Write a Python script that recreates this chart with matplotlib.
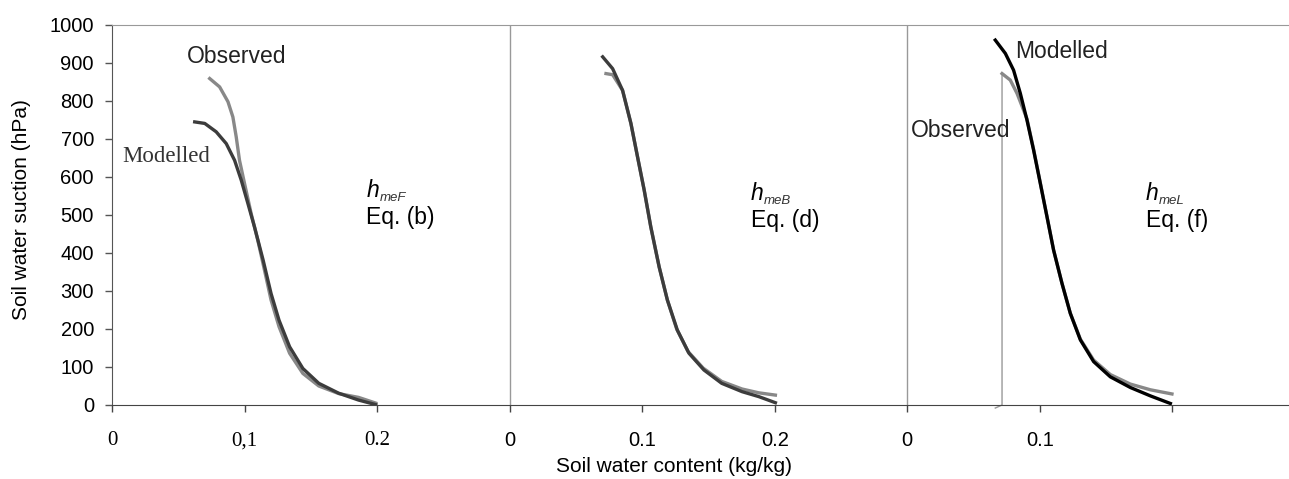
import matplotlib.pyplot as plt
import numpy as np

plt.rcParams['font.family'] = ['Liberation Sans', 'DejaVu Sans']

# Panel (b): hmeF
obs_b_x = [0.0737, 0.0812, 0.0875, 0.0912, 0.0937, 0.0962, 0.100, 0.105, 0.110, 0.115, 0.120,
           0.126, 0.134, 0.144, 0.156, 0.171, 0.186, 0.199]
obs_b_y = [858, 836, 797, 757, 705, 643, 582, 503, 433, 355, 276, 206, 136, 83, 50, 30, 20, 5]
mod_b_x = [0.0624, 0.070, 0.0786, 0.0862, 0.0925, 0.0975, 0.1025, 0.1075, 0.114, 0.120, 0.126,
           0.134, 0.144, 0.156, 0.171, 0.186, 0.199]
mod_b_y = [744, 740, 718, 687, 643, 591, 530, 468, 381, 293, 223, 153, 96, 57, 31, 13, 1]

# Panel (d): hmeB
obs_d_x = [0.0727, 0.0777, 0.0852, 0.0915, 0.0965, 0.1015, 0.1065, 0.1128, 0.119, 0.126, 0.1345,
           0.146, 0.160, 0.1754, 0.188, 0.2005]
obs_d_y = [871, 868, 827, 740, 652, 565, 468, 363, 276, 200, 141, 97, 62, 42, 32, 26]
mod_d_x = [0.0702, 0.0777, 0.0852, 0.0915, 0.0965, 0.1015, 0.1065, 0.1128, 0.119, 0.1265, 0.1353,
           0.1466, 0.160, 0.1754, 0.188, 0.2005]
mod_d_y = [915, 884, 827, 740, 652, 565, 468, 363, 276, 197, 136, 92, 57, 35, 22, 6]

# Panel (f): hmeL
obs_f_x = [0.0664, 0.0715, 0.0715, 0.0777, 0.0828, 0.0903, 0.0953, 0.1004, 0.1054, 0.1104, 0.1167,
           0.123, 0.1306, 0.1406, 0.1532, 0.1683, 0.1834, 0.1997]
obs_f_y = [-8, 0, 871, 854, 819, 752, 672, 583, 495, 407, 320, 241, 173, 118, 80, 55, 40, 29]
mod_f_x = [0.0664, 0.074, 0.0802, 0.0853, 0.0903, 0.0953, 0.1004, 0.1054, 0.1104, 0.1167, 0.123,
           0.1306, 0.1406, 0.1532, 0.1683, 0.1834, 0.1985]
mod_f_y = [959, 924, 880, 819, 749, 670, 582, 495, 407, 320, 241, 171, 114, 74, 46, 24, 4]

offsets = [0.0, 0.3, 0.6]
tick_pos = [0, 0.1, 0.2, 0.3, 0.4, 0.5, 0.6, 0.7, 0.8]
tick_labels = ["0", "0,1", "0.2", "0", "0.1", "0.2", "0", "0.1", ""]
y_ticks = list(range(0, 1001, 100))
h_subs = ["meF", "meB", "meL"]
eq_labels = ["Eq. (b)", "Eq. (d)", "Eq. (f)"]

fig = plt.figure(figsize=(12.89, 4.79), dpi=100)
ax = fig.add_axes([112 / 1289, 1 - 405 / 479, 1 - 112 / 1289, (405 - 24.5) / 479])

obs_col = '#888888'
mod_col = '#3c3c3c'

# panel b
o = offsets[0]
ax.plot(np.array(obs_b_x) + o, obs_b_y, color=obs_col, lw=2.4)
ax.plot(np.array(mod_b_x) + o, mod_b_y, color=mod_col, lw=2.4)
# panel d
o = offsets[1]
ax.plot(np.array(obs_d_x) + o, obs_d_y, color=obs_col, lw=2.4)
ax.plot(np.array(mod_d_x) + o, mod_d_y, color=mod_col, lw=2.4)
# panel f
o = offsets[2]
ax.plot(np.array(obs_f_x[:3]) + o, obs_f_y[:3], color='#999999', lw=1.0, clip_on=False)
ax.plot(np.array(obs_f_x[2:]) + o, obs_f_y[2:], color=obs_col, lw=2.4)
ax.plot(np.array(mod_f_x) + o, mod_f_y, color='black', lw=2.4)

# panel separators
for sep in offsets[1:]:
    ax.axvline(sep, color='#999999', lw=1.0)

ax.set_xlim(0, 0.888)
ax.set_ylim(0, 1000)
ax.set_yticks(y_ticks)
ax.set_xticks(tick_pos)
ax.set_xticklabels(tick_labels)
ax.tick_params(axis='y', length=5, width=1, color='#555555', pad=8, labelsize=14.5)
ax.tick_params(axis='x', length=5, width=1, color='#444444', pad=14, labelsize=14.5)
for lab in ax.get_xticklabels()[:3]:
    lab.set_fontfamily('Liberation Serif')
    lab.set_fontsize(15)

ax.spines['right'].set_visible(False)
ax.spines['top'].set_color('#999999')
ax.spines['left'].set_color('#555555')
ax.spines['bottom'].set_color('#444444')

# annotations
ax.text(0.0564, 898, "Observed", fontsize=16.5, color='#222222')
ax.text(0.0075, 638, "Modelled", fontsize=16.5, family='Liberation Serif', color='#333333')
ax.text(0.681, 911, "Modelled", fontsize=16.5, color='#222222')
ax.text(0.6025, 704, "Observed", fontsize=16.5, color='#222222')

# h_me? / Eq. labels
h_pos = [(0.192, 546), (0.482, 538), (0.780, 538)]
for (hx, hy), sub, eq in zip(h_pos, h_subs, eq_labels):
    ax.text(hx, hy, "h", fontsize=16.5, style='italic')
    ax.annotate(sub, xy=(hx, hy), xytext=(9.5, -2.5), textcoords='offset points',
                fontsize=9.5, style='italic', color='#333333')
    ax.text(hx, hy - 70, eq, fontsize=16.5)

fig.text(22 / 1289, 1 - 210 / 479, "Soil water suction (hPa)", rotation=90,
         ha='center', va='center', fontsize=15)
fig.text(674 / 1289, 1 - 457 / 479, "Soil water content (kg/kg)",
         ha='center', va='top', fontsize=15)

fig.savefig('out.png', dpi=100)
